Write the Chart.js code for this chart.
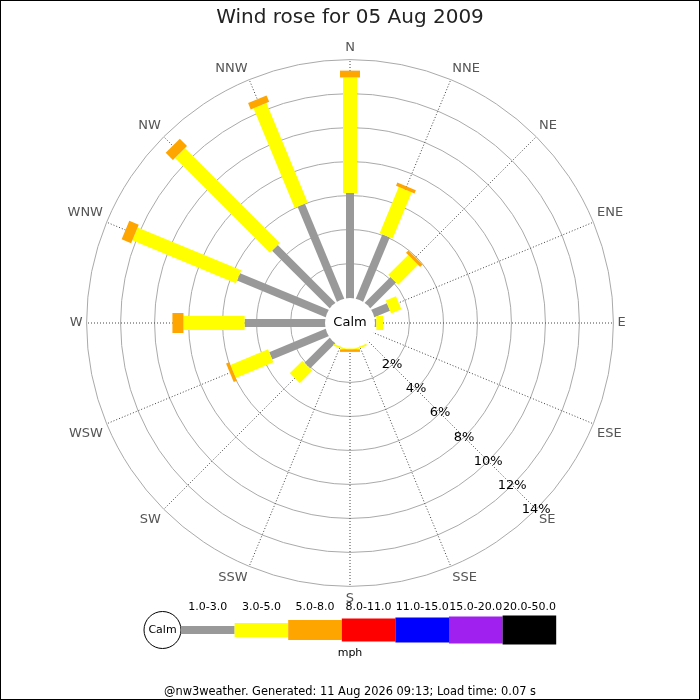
<!DOCTYPE html>
<html>
<head>
<meta charset="utf-8">
<title>Wind rose</title>
<script src="https://cdn.jsdelivr.net/npm/chart.js@4/dist/chart.umd.min.js"></script>
<style>
  html, body { margin: 0; padding: 0; background: #fff; }
  canvas { display: block; }
</style>
</head>
<body>
<canvas id="rose" width="700" height="700"></canvas>
<script>
// compass points, clockwise from north
const directions = ['N', 'NNE', 'NE', 'ENE', 'E', 'ESE', 'SE', 'SSE',
                    'S', 'SSW', 'SW', 'WSW', 'W', 'WNW', 'NW', 'NNW'];

// % of the day in each speed band, per direction
const speed1to3 = [6.15, 4.05, 2.1, 0.95, 0.05, 0, 0, 0, 0, 0, 2.05, 3.55, 4.7, 5.6, 4.75, 6.0];
const speed3to5 = [6.8, 2.95, 1.65, 0.65, 0.4, 0, 0, 0.1, 0.05, 0.1, 1.05, 2.4, 3.6, 6.6, 7.9, 6.35];
const speed5to8 = [0.4, 0.2, 0.2, 0, 0, 0, 0, 0, 0.15, 0, 0, 0.2, 0.65, 0.6, 0.6, 0.4];

const bandLabels = ['1.0-3.0', '3.0-5.0', '5.0-8.0', '8.0-11.0', '11.0-15.0', '15.0-20.0', '20.0-50.0'];
const ringTicks = [2, 4, 6, 8, 10, 12, 14];

const bandColors = ['#999999', '#ffff00', '#ffa500', '#ff0000', '#0000ff', '#a020f0', '#000000'];
const bandWidths = [8, 14, 20, 23, 25, 27, 29];

Chart.defaults.font.family = "'DejaVu Sans', sans-serif";

const windRose = {
  id: 'windRose',
  beforeDraw(chart) {
    const ctx = chart.ctx;
    ctx.save();
    ctx.fillStyle = '#fff';
    ctx.fillRect(0, 0, chart.width, chart.height);
    ctx.restore();
  },
  afterDatasetsDraw(chart) {
    const r = chart.scales.r;
    const ctx = chart.ctx;
    const total = directions.map(() => 0);
    ctx.save();
    ctx.lineCap = 'butt';
    chart.data.datasets.forEach((ds, k) => {
      ds.data.forEach((v, i) => {
        const from = k === 0 ? r.min : total[i];
        total[i] += v;
        if (v <= 0) return;
        const a = r.getPointPositionForValue(i, from);
        const b = r.getPointPositionForValue(i, total[i]);
        ctx.strokeStyle = bandColors[k];
        ctx.lineWidth = bandWidths[k];
        ctx.beginPath();
        ctx.moveTo(a.x, a.y);
        ctx.lineTo(b.x, b.y);
        ctx.stroke();
      });
    });

    // calm disc in the middle
    ctx.fillStyle = '#fff';
    ctx.beginPath();
    ctx.arc(r.xCenter, r.yCenter, r.getDistanceFromCenterForValue(0) - 0.5, 0, Math.PI * 2);
    ctx.fill();
    ctx.fillStyle = '#000';
    ctx.font = "13px 'DejaVu Sans'";
    ctx.textAlign = 'center';
    ctx.textBaseline = 'middle';
    ctx.fillText('Calm', r.xCenter, r.yCenter);

    // ring labels along the SE spoke
    const se = directions.indexOf('SE');
    ringTicks.forEach(v => {
      const p = r.getPointPositionForValue(se, v);
      ctx.fillText(v + '%', p.x, p.y);
    });
    ctx.restore();
  },
  afterDraw(chart) {
    const ctx = chart.ctx;
    ctx.save();

    // speed legend
    const x0 = 181, cy = 630, w = 53.6;
    ctx.strokeStyle = '#000';
    ctx.lineWidth = 1;
    ctx.beginPath();
    ctx.arc(x0 - 18.5, cy, 18.5, 0, Math.PI * 2);
    ctx.fillStyle = '#fff';
    ctx.fill();
    ctx.stroke();
    ctx.fillStyle = '#000';
    ctx.font = "11px 'DejaVu Sans'";
    ctx.textAlign = 'center';
    ctx.textBaseline = 'middle';
    ctx.fillText('Calm', x0 - 18.5, cy);
    bandLabels.forEach((label, k) => {
      const h = bandWidths[k];
      ctx.fillStyle = bandColors[k];
      ctx.fillRect(x0 + k * w, cy - h / 2, w, h);
      ctx.fillStyle = '#000';
      ctx.fillText(label, x0 + k * w + w / 2, 607);
    });
    ctx.fillText('mph', 350, 653);

    // frame
    ctx.strokeStyle = '#000';
    ctx.strokeRect(0.5, 0.5, chart.width - 1, chart.height - 1);
    ctx.restore();
  }
};

new Chart(document.getElementById('rose'), {
  type: 'radar',
  data: {
    labels: directions,
    datasets: [speed1to3, speed3to5, speed5to8].map((d, k) => ({
      label: bandLabels[k],
      data: d,
      showLine: false,
      fill: false,
      pointRadius: 0,
      pointHitRadius: 0
    }))
  },
  options: {
    responsive: false,
    animation: false,
    layout: { padding: 0 },
    scales: {
      r: {
        min: -1.5,
        max: 14,
        afterBuildTicks(scale) {
          scale.ticks = ringTicks.map(v => ({ value: v }));
        },
        ticks: { display: false },
        grid: { circular: true, color: '#aaaaaa', lineWidth: 1 },
        angleLines: { display: true, color: '#444444', lineWidth: 1, borderDash: [1, 2] },
        pointLabels: { color: '#555555', font: { size: 13 }, padding: 4 }
      }
    },
    plugins: {
      legend: { display: false },
      tooltip: { enabled: false },
      title: {
        display: true,
        text: 'Wind rose for 05 Aug 2009',
        color: '#222222',
        font: { size: 20, weight: 'normal' },
        padding: { top: 6, bottom: 10 }
      },
      subtitle: {
        display: true,
        position: 'bottom',
        text: '@nw3weather. Generated: 11 Aug 2026 09:13; Load time: 0.07 s',
        color: '#000000',
        font: { size: 11.4 },
        padding: { top: 78.3, bottom: 1 }
      }
    }
  },
  plugins: [windRose]
});
</script>
</body>
</html>
